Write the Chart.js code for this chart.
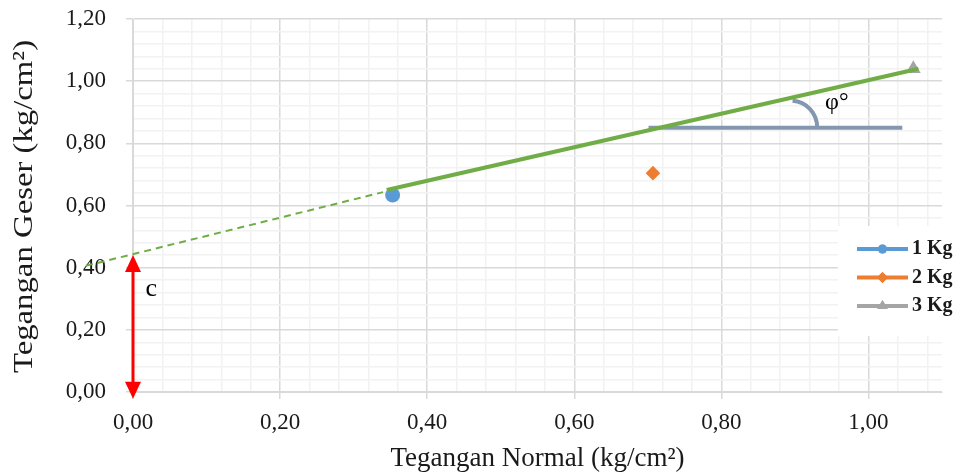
<!DOCTYPE html>
<html>
<head>
<meta charset="utf-8">
<script src="https://cdn.jsdelivr.net/npm/chart.js@4.4.0/dist/chart.umd.min.js"></script>
<style>
  html, body { margin: 0; padding: 0; background: #fff; }
  #wrap { width: 963px; height: 475px; }
</style>
</head>
<body>
<div id="wrap"><canvas id="myChart" width="963" height="475"></canvas></div>
<script>
// measured points
const seriesNames = ['1 Kg', '2 Kg', '3 Kg']
const normalStress = [0.353, 0.707, 1.061]
const shearStress = [0.634, 0.704, 1.040]

// hand drawn failure envelope + annotations
const envelopeX = [0.345, 1.068]
const envelopeY = [0.650, 1.040]
const extensionX = [-0.064, 0.340]
const extensionY = [0.406, 0.643]
const phiBaseX = [0.701, 1.046]
const phiBaseY = [0.850, 0.850]
const phiArcCenter = [0.895, 0.850]
const phiLabelPos = [0.957, 0.930]
const cohesionX = 0
const cohesionY = [0.441, -0.022]
const cohesionLabelPos = [0.025, 0.33]

const xMajorTicks = [0, 0.2, 0.4, 0.6, 0.8, 1.0]
const yMajorTicks = [0, 0.2, 0.4, 0.6, 0.8, 1.0, 1.2]
const minorStep = 0.04

const xTitle = 'Tegangan Normal (kg/cm²)'
const yTitle = 'Tegangan Geser (kg/cm²)'

const serif = "'Liberation Serif', 'Times New Roman', serif"
const colors = ['#5B9BD5', '#ED7D31', '#A5A5A5']
const pointStyles = ['circle', 'rectRot', 'triangle']
const pointSizes = [7.5, 7.3, 8.5]

const isMajor = (v, majors) => majors.some(m => Math.abs(m - v) < 1e-6)
const fmt = v => v.toFixed(2).replace('.', ',')

const buildTicks = (count) => (scale) => {
    const ticks = []
    for (let i = 0; i <= count; i++) {
        ticks.push({ value: Math.round(i * minorStep * 100) / 100 })
    }
    scale.ticks = ticks
}

const pointSets = seriesNames.map((name, i) => ({
    label: name,
    data: [{ x: normalStress[i], y: shearStress[i] }],
    backgroundColor: colors[i],
    borderColor: colors[i],
    pointStyle: pointStyles[i],
    pointRadius: pointSizes[i],
    borderWidth: 0,
    showLine: false,
    order: 2
}))

const toPoints = (xs, ys) => xs.map((v, i) => ({ x: v, y: ys[i] }))

const lineSets = [
    {
        label: 'envelope',
        data: toPoints(envelopeX, envelopeY),
        showLine: true,
        borderColor: '#70AD47',
        borderWidth: 4,
        pointRadius: 0,
        order: 0
    },
    {
        label: 'extension',
        data: toPoints(extensionX, extensionY),
        showLine: true,
        borderColor: '#70AD47',
        borderWidth: 2,
        borderDash: [7, 5],
        pointRadius: 0,
        clip: false,
        order: 1
    },
    {
        label: 'phiBase',
        data: toPoints(phiBaseX, phiBaseY),
        showLine: true,
        borderColor: '#8497B0',
        borderWidth: 4,
        pointRadius: 0,
        order: 1
    }
]

const annotations = {
    id: 'annotations',
    afterDatasetsDraw(chart) {
        const { ctx, scales: { x, y } } = chart
        ctx.save()

        // angle arc
        const cx = x.getPixelForValue(phiArcCenter[0])
        const cy = y.getPixelForValue(phiArcCenter[1])
        ctx.strokeStyle = '#8497B0'
        ctx.lineWidth = 4
        ctx.beginPath()
        ctx.ellipse(cx, cy, 26, 27, 0, -Math.PI / 2 + 0.05, 0)
        ctx.stroke()

        ctx.fillStyle = '#000'
        ctx.font = '24px ' + serif
        ctx.textAlign = 'center'
        ctx.textBaseline = 'middle'
        ctx.fillText('φ°', x.getPixelForValue(phiLabelPos[0]), y.getPixelForValue(phiLabelPos[1]))

        // cohesion arrow
        const ax = x.getPixelForValue(cohesionX)
        const top = y.getPixelForValue(cohesionY[0])
        const bottom = y.getPixelForValue(cohesionY[1])
        const head = 17, half = 8
        ctx.strokeStyle = '#FF0000'
        ctx.fillStyle = '#FF0000'
        ctx.lineWidth = 3
        ctx.beginPath()
        ctx.moveTo(ax, top + head - 2)
        ctx.lineTo(ax, bottom - head + 2)
        ctx.stroke()
        ctx.beginPath()
        ctx.moveTo(ax, top)
        ctx.lineTo(ax - half, top + head)
        ctx.lineTo(ax + half, top + head)
        ctx.closePath()
        ctx.fill()
        ctx.beginPath()
        ctx.moveTo(ax, bottom)
        ctx.lineTo(ax - half, bottom - head)
        ctx.lineTo(ax + half, bottom - head)
        ctx.closePath()
        ctx.fill()

        ctx.fillStyle = '#000'
        ctx.font = '26px ' + serif
        ctx.fillText('c', x.getPixelForValue(cohesionLabelPos[0]), y.getPixelForValue(cohesionLabelPos[1]))
        ctx.restore()
    },
    afterDraw(chart) {
        const { ctx, chartArea } = chart
        ctx.save()

        // y title, the original is drawn a bit stretched along its length
        ctx.fillStyle = '#1a1a1a'
        ctx.font = '28px ' + serif
        ctx.textAlign = 'center'
        ctx.textBaseline = 'middle'
        ctx.translate(25, (chartArea.top + chartArea.bottom) / 2 + 1)
        ctx.rotate(-Math.PI / 2)
        ctx.scale(1.17, 1)
        ctx.fillText(yTitle, 0, 0)
        ctx.setTransform(1, 0, 0, 1, 0, 0)

        // legend box sitting over the plot, like in excel
        ctx.fillStyle = '#fff'
        ctx.fillRect(838, 226, 125, 110)
        ctx.font = 'bold 20px ' + serif
        ctx.textBaseline = 'middle'
        ctx.textAlign = 'left'
        seriesNames.forEach((name, i) => {
            const ly = 249 + i * 28.5
            ctx.strokeStyle = colors[i]
            ctx.lineWidth = 4
            ctx.beginPath()
            ctx.moveTo(857, ly)
            ctx.lineTo(908, ly)
            ctx.stroke()
            ctx.fillStyle = colors[i]
            Chart.helpers.drawPoint(ctx, { pointStyle: pointStyles[i], radius: [4.5, 5.5, 6][i], borderWidth: 0 }, 882.5, ly)
            ctx.fill()
            ctx.fillStyle = '#1a1a1a'
            ctx.fillText(name, 912, ly)
        })
        ctx.restore()
    }
}

const ctx = document.getElementById('myChart')
new Chart(ctx, {
    type: 'scatter',
    data: { datasets: [...lineSets, ...pointSets] },
    plugins: [annotations],
    options: {
        responsive: false,
        animation: false,
        events: [],
        layout: { padding: { top: 19, right: 21, left: 0, bottom: 0 } },
        plugins: { legend: { display: false }, tooltip: { enabled: false } },
        scales: {
            x: {
                type: 'linear',
                min: 0,
                max: 1.1,
                afterBuildTicks: buildTicks(27),
                afterFit: (scale) => { scale.height = 83 },
                border: { color: '#D9D9D9', width: 1 },
                grid: {
                    color: c => (c.tick && isMajor(c.tick.value, xMajorTicks)) ? '#D9D9D9' : '#F2F2F2',
                    lineWidth: 1.5,
                    tickColor: c => (c.tick && isMajor(c.tick.value, xMajorTicks)) ? '#D9D9D9' : 'rgba(0,0,0,0)',
                    tickLength: 7
                },
                ticks: {
                    autoSkip: false,
                    maxRotation: 0,
                    padding: 10,
                    color: '#1a1a1a',
                    font: { family: serif, size: 23 },
                    callback: v => isMajor(v, xMajorTicks) ? fmt(v) : ''
                },
                title: {
                    display: true,
                    text: xTitle,
                    color: '#1a1a1a',
                    font: { family: serif, size: 27 },
                    padding: { top: 0, bottom: 0 }
                }
            },
            y: {
                type: 'linear',
                min: 0,
                max: 1.2,
                afterBuildTicks: buildTicks(30),
                afterFit: (scale) => {
                    scale.width = 133
                    scale.paddingTop = 14
                    scale.paddingBottom = 14
                },
                border: { color: '#D9D9D9', width: 1 },
                grid: {
                    color: c => (c.tick && isMajor(c.tick.value, yMajorTicks)) ? '#D9D9D9' : '#F2F2F2',
                    lineWidth: 1.5,
                    tickColor: c => (c.tick && isMajor(c.tick.value, yMajorTicks)) ? '#D9D9D9' : 'rgba(0,0,0,0)',
                    tickLength: 7
                },
                ticks: {
                    autoSkip: false,
                    padding: 20,
                    color: '#1a1a1a',
                    font: { family: serif, size: 23 },
                    callback: v => isMajor(v, yMajorTicks) ? fmt(v) : ''
                },
                title: { display: false }
            }
        }
    }
})
</script>
</body>
</html>
